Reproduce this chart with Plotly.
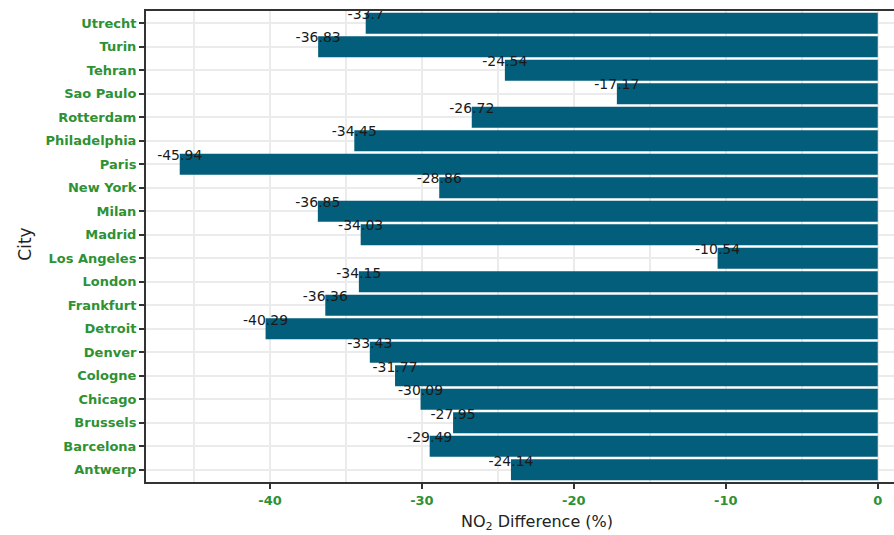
import plotly.graph_objects as go

# NO2 change per city (%), listed bottom-to-top as drawn
cities = ["Antwerp", "Barcelona", "Brussels", "Chicago", "Cologne", "Denver",
          "Detroit", "Frankfurt", "London", "Los Angeles", "Madrid", "Milan",
          "New York", "Paris", "Philadelphia", "Rotterdam", "Sao Paulo",
          "Tehran", "Turin", "Utrecht"]
no2_diff = [-24.14, -29.49, -27.95, -30.09, -31.77, -33.43, -40.29, -36.36,
            -34.15, -10.54, -34.03, -36.85, -28.86, -45.94, -34.45, -26.72,
            -17.17, -24.54, -36.83, -33.7]
x_tick_vals = [-40, -30, -20, -10, 0]
x_tick_text = ["-40", "-30", "-20", "-10", "0"]

BAR = "#035E7B"
GREEN = "#2E9134"
AXIS = "#333333"
GRID = "#EBEBEB"

pos = list(range(len(cities)))
labels = [f"{v:g}" for v in no2_diff]

fig = go.Figure()
fig.add_trace(go.Bar(
    x=no2_diff, y=pos, orientation="h", width=0.9,
    marker=dict(color=BAR, line=dict(width=0)),
    hoverinfo="skip", showlegend=False,
))
fig.add_trace(go.Scatter(
    x=no2_diff, y=[p + 0.33 for p in pos], mode="text", text=labels,
    textposition="middle center", cliponaxis=True,
    textfont=dict(family="DejaVu Sans", size=14, color="#1a1a1a"),
    hoverinfo="skip", showlegend=False,
))

fig.update_layout(
    width=894, height=535,
    margin=dict(l=146, r=0, t=11, b=53),
    paper_bgcolor="white", plot_bgcolor="white",
    xaxis=dict(
        range=[-48.16, 1.07], autorange=False,
        tickvals=x_tick_vals, ticktext=x_tick_text,
        tickfont=dict(family="DejaVu Sans", size=13, color=GREEN, weight="bold"),
        ticks="outside", ticklen=5, tickwidth=2, tickcolor=AXIS,
        showgrid=True, gridcolor=GRID, gridwidth=2,
        minor=dict(dtick=5, tick0=0, showgrid=True, gridcolor=GRID, gridwidth=1.5, ticks=""),
        showline=True, linecolor=AXIS, linewidth=2, mirror=True,
        zeroline=False, automargin=False,
    ),
    yaxis=dict(
        range=[-0.52, 19.52], autorange=False,
        tickvals=pos, ticktext=cities,
        tickfont=dict(family="DejaVu Sans", size=13, color=GREEN, weight="bold"),
        ticks="outside", ticklen=5, tickwidth=2, tickcolor=AXIS,
        showgrid=True, gridcolor=GRID, gridwidth=2,
        showline=True, linecolor=AXIS, linewidth=2,
        zeroline=False, automargin=False,
    ),
    annotations=[
        dict(text="NO<sub>2</sub> Difference (%)", xref="paper", yref="paper",
             x=0.523, y=-0.087, showarrow=False, xanchor="center", yanchor="middle",
             font=dict(family="DejaVu Sans", size=16, color="#222222")),
        dict(text="City", xref="paper", yref="paper", textangle=-90,
             x=-0.161, y=0.505, showarrow=False, xanchor="center", yanchor="middle",
             font=dict(family="DejaVu Sans", size=17, color="#222222")),
    ],
)

fig.write_html("out.html")
